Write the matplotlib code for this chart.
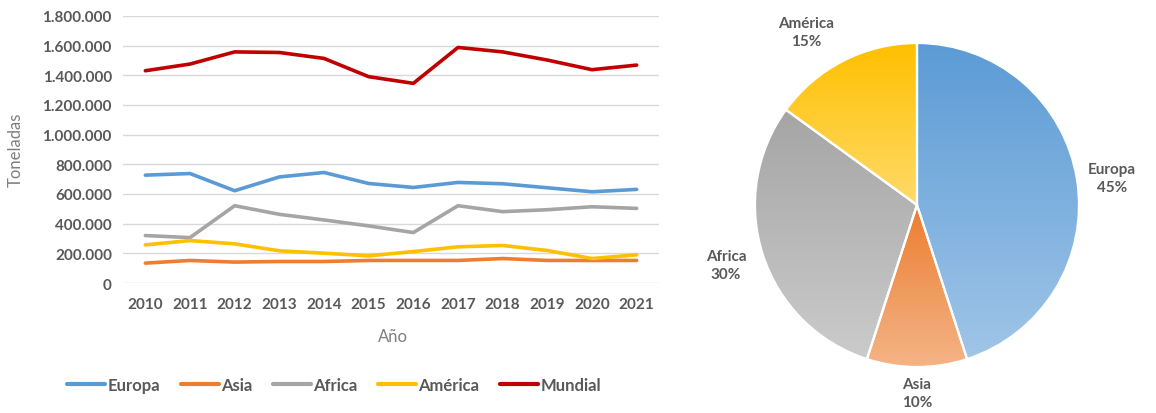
import numpy as np
import matplotlib
matplotlib.use("Agg")
import matplotlib.pyplot as plt
from matplotlib.ticker import FuncFormatter, MultipleLocator
from matplotlib.colors import LinearSegmentedColormap

plt.rcParams['font.family'] = ['Lato', 'DejaVu Sans']

# ---- data ----
years = [2010, 2011, 2012, 2013, 2014, 2015, 2016, 2017, 2018, 2019, 2020, 2021]
europa = [727000, 738000, 622000, 715000, 745000, 671000, 644000, 678000, 669000, 642000, 615000, 631000]
asia = [134000, 152000, 141000, 145000, 145000, 152000, 152000, 152000, 165000, 152000, 152000, 152000]
africa = [320000, 306000, 521000, 463000, 425000, 385000, 340000, 521000, 481000, 494000, 514000, 503000]
america = [257000, 286000, 264000, 217000, 201000, 183000, 212000, 244000, 253000, 219000, 165000, 190000]
mundial = [1431000, 1476000, 1558000, 1554000, 1514000, 1391000, 1346000, 1588000, 1558000, 1503000, 1438000, 1469000]

pie_labels = ["Europa", "Asia", "Africa", "América"]
pie_shares = [45, 10, 30, 15]

# ---- styling ----
W, H = 1156, 414
TXT = "#595959"
LBL = "#7f7f7f"
series = [
    ("Europa", europa, "#5B9BD5"),
    ("Asia", asia, "#ED7D31"),
    ("Africa", africa, "#A5A5A5"),
    ("América", america, "#FFC000"),
    ("Mundial", mundial, "#C00000"),
]
grad = {
    "Europa": ("#5B9BD5", "#A0C5E8"),
    "Asia": ("#ED7D31", "#F4B486"),
    "Africa": ("#A5A5A5", "#CBCBCB"),
    "América": ("#FFC000", "#FFDA6A"),
}


def fbox(x0, y0, x1, y1):
    """Pixel box (top-left origin) -> figure fraction rect."""
    return [x0 / W, 1 - y1 / H, (x1 - x0) / W, (y1 - y0) / H]


fig = plt.figure(figsize=(W / 100, H / 100), dpi=100)

# ---- line chart ----
ax = fig.add_axes(fbox(123, 17, 659, 284))
x = np.arange(len(years))
for name, vals, col in series:
    ax.plot(x, vals, color=col, lw=2.6, label=name, solid_capstyle="round",
            solid_joinstyle="round")

ax.set_xlim(-0.5, len(years) - 0.5)
ax.set_ylim(0, 1800000)
ax.yaxis.set_major_locator(MultipleLocator(200000))
ax.yaxis.set_major_formatter(FuncFormatter(lambda v, p: f"{int(v):,}".replace(",", ".")))
ax.set_xticks(x)
ax.set_xticklabels([str(y) for y in years])
ax.grid(axis="y", color="#D9D9D9", lw=1)
ax.set_axisbelow(True)
for s in ax.spines.values():
    s.set_visible(False)
ax.tick_params(length=0, labelsize=11, colors=TXT, pad=8)
for t in ax.get_xticklabels() + ax.get_yticklabels():
    t.set_fontweight("bold")
ax.tick_params(axis="x", pad=10)

fig.text(16 / W, 1 - 150 / H, "Toneladas", rotation=90, ha="center", va="center",
         fontsize=12, color=LBL)
fig.text(393 / W, 1 - 337 / H, "Año", ha="center", va="center", fontsize=12, color=LBL)

leg = fig.legend(loc="center", bbox_to_anchor=(334 / W, 1 - 386 / H), ncol=5,
                 frameon=False, handlelength=2.3, handletextpad=0.15,
                 columnspacing=1.2, fontsize=12)
for t in leg.get_texts():
    t.set_color(TXT)
    t.set_fontweight("bold")
for h in leg.get_lines():
    h.set_linewidth(3)

# ---- pie chart ----
cx, cy, r = 917, 206, 162
ax2 = fig.add_axes(fbox(cx - r, cy - r, cx + r, cy + r))
wedges, _ = ax2.pie(pie_shares, startangle=90, counterclock=False,
                    wedgeprops=dict(edgecolor="white", linewidth=1.6))

# vertical gradient inside each wedge: darker at its top, lighter at its bottom
grad_img = np.linspace(0, 1, 256).reshape(-1, 1)
for w, name in zip(wedges, pie_labels):
    top, bottom = grad[name]
    cmap = LinearSegmentedColormap.from_list(name, [top, bottom])
    ext = w.get_path().get_extents()
    im = ax2.imshow(grad_img, cmap=cmap, aspect="auto",
                    extent=(ext.x0, ext.x1, ext.y0, ext.y1), origin="upper",
                    zorder=w.get_zorder() - 0.1, interpolation="bilinear")
    im.set_clip_path(w)
    w.set_facecolor("none")
    w.set_zorder(3)
ax2.set_xlim(-1, 1)
ax2.set_ylim(-1, 1)
ax2.set_aspect("equal")
ax2.axis("off")

# label placement (pixel centres of each two-line label)
label_pos = {"Europa": (1112, 179), "Asia": (917, 394), "Africa": (726, 266), "América": (806, 33)}
for name, share in zip(pie_labels, pie_shares):
    px, py = label_pos[name]
    fig.text(px / W, 1 - py / H, f"{name}\n{share}%", ha="center", va="center",
             fontsize=11, fontweight="bold", color=TXT, linespacing=1.35)

fig.savefig("out.png", dpi=100)
